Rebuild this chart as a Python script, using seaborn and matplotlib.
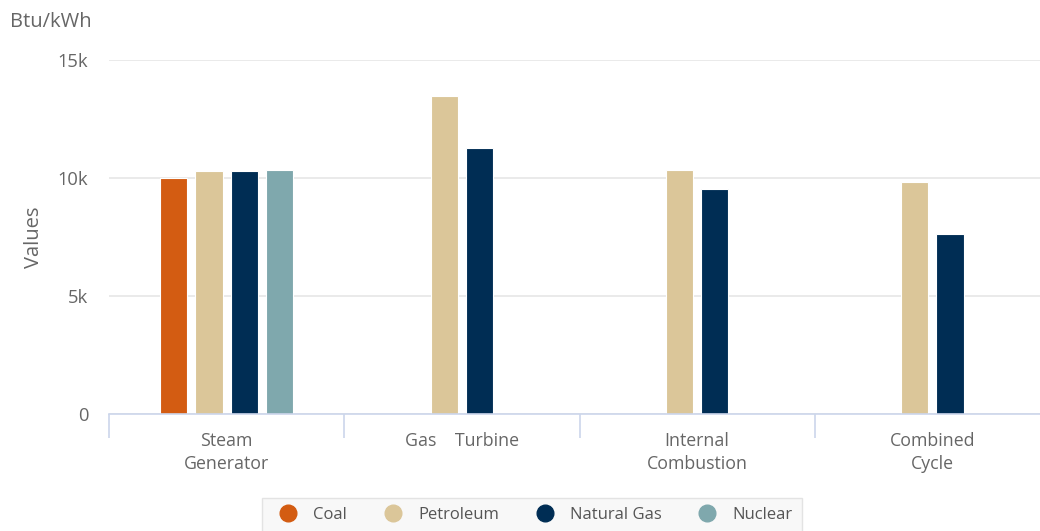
import pandas as pd
import matplotlib.pyplot as plt
import seaborn as sns
from matplotlib.lines import Line2D

# Heat rates by prime mover and fuel (Btu/kWh)
prime_movers = ['Steam\nGenerator', 'Gas    Turbine', 'Internal\nCombustion', 'Combined\nCycle']
fuels = ['Coal', 'Petroleum', 'Natural Gas', 'Nuclear']
coal = [10020, None, None, None]
petroleum = [10290, 13470, 10340, 9840]
natural_gas = [10290, 11270, 9520, 7610]
nuclear = [10360, None, None, None]
colors = ['#D35C12', '#DBC699', '#002D54', '#7FA8AD']

rows = []
for fuel, vals in zip(fuels, [coal, petroleum, natural_gas, nuclear]):
    for pm, v in zip(prime_movers, vals):
        if v is not None:
            rows.append({'Prime Mover': pm, 'Fuel': fuel, 'Value': v})
df = pd.DataFrame(rows)

sns.set_style('white')
plt.rcParams['font.family'] = ['Open Sans', 'DejaVu Sans']

fig = plt.figure(figsize=(10.4, 5.31), dpi=100)
ax = fig.add_axes([109 / 1040, 1 - 414 / 531, 941 / 1040, 354 / 531])

sns.barplot(data=df, x='Prime Mover', y='Value', hue='Fuel', order=prime_movers,
            hue_order=fuels, palette=colors, saturation=1, width=0.6, gap=0.23,
            dodge=True, edgecolor='white', linewidth=0.8, errorbar=None,
            legend=False, ax=ax)

# Highcharts centres the bars that exist in each group, so shift them
slot = 0.6 / len(fuels)
groups = {}
for bar in ax.patches:
    cx = bar.get_x() + bar.get_width() / 2
    groups.setdefault(int(round(cx)), []).append(bar)
for idx, bars in groups.items():
    bars.sort(key=lambda b: b.get_x())
    n = len(bars)
    for j, b in enumerate(bars):
        b.set_x(idx + (j - (n - 1) / 2) * slot - b.get_width() / 2)

ax.set_xlim(-0.5, len(prime_movers) - 0.5)
ax.set_ylim(0, 15000)
ax.set_yticks([0, 5000, 10000, 15000])
ax.set_yticklabels(['0', '5k', '10k', '15k'])
ax.yaxis.grid(True, color='#e6e6e6', linewidth=1.2)
ax.set_axisbelow(True)

for s in ['top', 'right', 'left']:
    ax.spines[s].set_visible(False)
ax.spines['bottom'].set_color('#ccd6eb')
ax.spines['bottom'].set_linewidth(1.2)

# category tick marks sit between groups
ax.set_xticks([i - 0.5 for i in range(len(prime_movers))], minor=True)
ax.tick_params(axis='x', which='minor', length=17, width=1.2, color='#ccd6eb', bottom=True)
ax.tick_params(axis='x', which='major', length=0, pad=13, labelsize=12.8, labelcolor='#666666')
ax.tick_params(axis='y', length=0, pad=15, labelsize=13.2, labelcolor='#666666')
for lbl in ax.get_xticklabels():
    lbl.set_linespacing(1.35)

ax.set_xlabel('')
ax.set_ylabel('Values', fontsize=14.5, color='#666666', labelpad=10)
fig.text(10 / 1040, 1 - 22 / 531, 'Btu/kWh', fontsize=14.5, color='#666666', va='center', ha='left')

handles = [Line2D([0], [0], marker='o', linestyle='', markersize=12,
                  markerfacecolor=c, markeredgecolor=c) for c in colors]
leg = fig.legend(handles, fuels, loc='center', bbox_to_anchor=(532 / 1040, 1 - 515 / 531),
                 ncol=4, frameon=True, fontsize=12, handletextpad=0.5, columnspacing=1.75,
                 borderpad=0.55, fancybox=False)
leg.get_frame().set_facecolor('#f7f7f7')
leg.get_frame().set_edgecolor('#dddddd')
for t in leg.get_texts():
    t.set_color('#555555')

fig.savefig('out.png', dpi=100)
